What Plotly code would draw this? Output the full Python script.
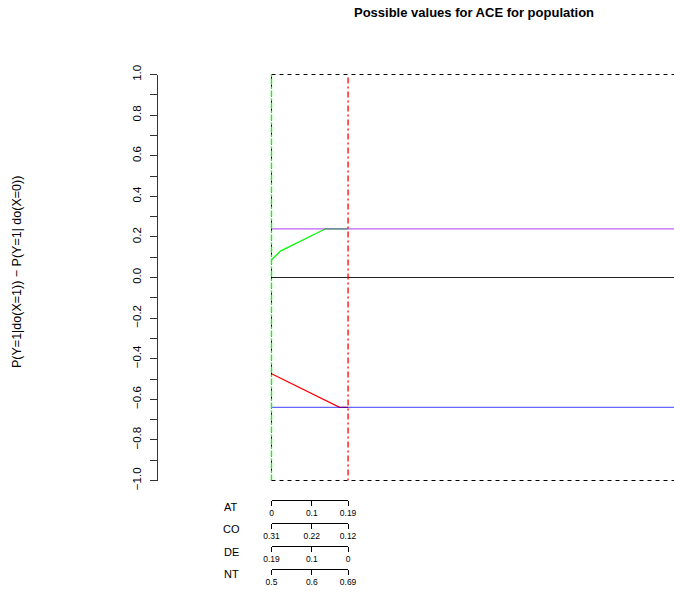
import plotly.graph_objects as go

# ---------------- data ----------------
title_text = "Possible values for ACE for population"
y_title = "P(Y=1|do(X=1)) \u2212 P(Y=1| do(X=0))"

at_ticks = [0, 0.1, 0.19]
at_labels = ["0", "0.1", "0.19"]
co_labels = ["0.31", "0.22", "0.12"]
de_labels = ["0.19", "0.1", "0"]
nt_labels = ["0.5", "0.6", "0.69"]
axis_names = ["AT", "CO", "DE", "NT"]

at_max = 0.19
upper_bound_level = 0.24     # purple
lower_bound_level = -0.64    # blue

green_x = [0, 0.022, 0.134, 0.19]
green_y = [0.087, 0.13, 0.24, 0.24]
red_x = [0, 0.169, 0.19]
red_y = [-0.474, -0.64, -0.64]

y_ticks = [round(-1 + 0.1 * i, 1) for i in range(21)]
y_ticklabels = [("%.1f" % v).replace("-", "\u2212") if i % 2 == 0 else "" for i, v in enumerate(y_ticks)]

# ---------------- layout helpers ----------------
W, H = 674, 592
def px(p):
    return p / W
def py(p):
    return 1 - p / H

FONT = "Liberation Sans, Arial, Helvetica, sans-serif"
UNIT_X = 403.0
X0_PIX = 271.5
Y_TOP, Y_BOT = 74.5, 480.5
UNIT_Y = (Y_BOT - Y_TOP) / 2.0

fig = go.Figure()

# Dashed frame lines at +-1
for yv in (1, -1):
    fig.add_trace(go.Scatter(x=[0, 1], y=[yv, yv], mode="lines",
                             line=dict(color="black", width=1, dash="4px,4px"),
                             hoverinfo="skip", showlegend=False))
# zero line
fig.add_trace(go.Scatter(x=[0, 1], y=[0, 0], mode="lines",
                         line=dict(color="#222222", width=1),
                         hoverinfo="skip", showlegend=False))
# curves
fig.add_trace(go.Scatter(x=green_x, y=green_y, mode="lines",
                         line=dict(color="#00FF00", width=1.3),
                         hoverinfo="skip", showlegend=False))
fig.add_trace(go.Scatter(x=red_x, y=red_y, mode="lines",
                         line=dict(color="#FF0000", width=1.3),
                         hoverinfo="skip", showlegend=False))
# horizontal bounds
fig.add_trace(go.Scatter(x=[0, 1], y=[upper_bound_level] * 2, mode="lines",
                         line=dict(color="#A020F0", width=1.3), opacity=0.7,
                         hoverinfo="skip", showlegend=False))
fig.add_trace(go.Scatter(x=[0, 1], y=[lower_bound_level] * 2, mode="lines",
                         line=dict(color="#0000FF", width=1.3), opacity=0.6,
                         hoverinfo="skip", showlegend=False))
# vertical lines
fig.add_trace(go.Scatter(x=[0, 0], y=[-1, 1], mode="lines",
                         line=dict(color="black", width=1, dash="4px,4px"),
                         hoverinfo="skip", showlegend=False))
fig.add_trace(go.Scatter(x=[0, 0], y=[-1, 1], mode="lines",
                         line=dict(color="#00FF00", width=1.4, dash="6px,2px,2px,2px"),
                         hoverinfo="skip", showlegend=False))
fig.add_trace(go.Scatter(x=[at_max, at_max], y=[-1, 1], mode="lines",
                         line=dict(color="#FF0000", width=1.3, dash="2px,3px,6px,3px"),
                         hoverinfo="skip", showlegend=False))

# dummy trace for detached y axis
fig.add_trace(go.Scatter(x=[None], y=[None], xaxis="x", yaxis="y2", mode="lines",
                         hoverinfo="skip", showlegend=False))

# dummy traces for the four small bottom axes
for k in range(4):
    fig.add_trace(go.Scatter(x=[None], y=[None], xaxis="x%d" % (k + 3), yaxis="y", mode="lines",
                             hoverinfo="skip", showlegend=False))

x_lo = -0.02
x_dom = [px(X0_PIX + x_lo * UNIT_X), 1.0]
x_hi = (W - X0_PIX) / UNIT_X

y_pad = 0.04
y_dom = [py(Y_BOT + y_pad * UNIT_Y), py(Y_TOP - y_pad * UNIT_Y)]

layout = dict(
    width=W, height=H,
    margin=dict(l=0, r=0, t=0, b=0),
    plot_bgcolor="rgba(0,0,0,0)", paper_bgcolor="white",
    showlegend=False,
    font=dict(family=FONT, color="black"),
    xaxis=dict(domain=x_dom, range=[x_lo, x_hi], visible=False, fixedrange=True),
    yaxis=dict(domain=y_dom, range=[-1 - y_pad, 1 + y_pad], visible=False, fixedrange=True),
    yaxis2=dict(domain=[py(Y_BOT), py(Y_TOP)], range=[-1, 1], anchor="free",
                position=px(157), side="left", showline=True, linecolor="#333333",
                linewidth=1, ticks="outside", ticklen=7, tickwidth=1, tickcolor="#333333",
                tickvals=y_ticks, ticktext=y_ticklabels, tickangle=-90,
                ticklabelstandoff=4,
                tickfont=dict(size=11.5, family=FONT, color="black"),
                showgrid=False, zeroline=False, automargin=False, fixedrange=True),
)

label_sets = [at_labels, co_labels, de_labels, nt_labels]
line_pix = [499.5, 522.5, 545.5, 568.5]
small_dom = [px(X0_PIX), px(X0_PIX + at_max * UNIT_X)]
for k in range(4):
    layout["xaxis%d" % (k + 3)] = dict(
        domain=small_dom, range=[0, at_max], anchor="free", position=py(line_pix[k]),
        side="bottom", showline=True, linecolor="black", linewidth=1,
        ticks="outside", ticklen=5, tickwidth=1, tickcolor="black",
        tickvals=at_ticks, ticktext=label_sets[k],
        tickfont=dict(size=8.5, family=FONT, color="black"),
        showgrid=False, zeroline=False, automargin=False, fixedrange=True)

annotations = [
    dict(text="<b>%s</b>" % title_text, x=px(474), y=py(12), xref="paper", yref="paper",
         showarrow=False, xanchor="center", yanchor="middle",
         font=dict(size=13, family=FONT, color="black")),
    dict(text=y_title, x=px(17), y=py(272), xref="paper", yref="paper", showarrow=False,
         textangle=-90, xanchor="center", yanchor="middle",
         font=dict(size=12.5, family=FONT, color="black")),
]
name_pix = [507, 529, 552, 574]
for name, yp in zip(axis_names, name_pix):
    annotations.append(dict(text=name, x=px(231), y=py(yp), xref="paper", yref="paper",
                            showarrow=False, xanchor="center", yanchor="middle",
                            font=dict(size=11, family=FONT, color="black")))
layout["annotations"] = annotations

fig.update_layout(**layout)
fig.write_html("out.html")
